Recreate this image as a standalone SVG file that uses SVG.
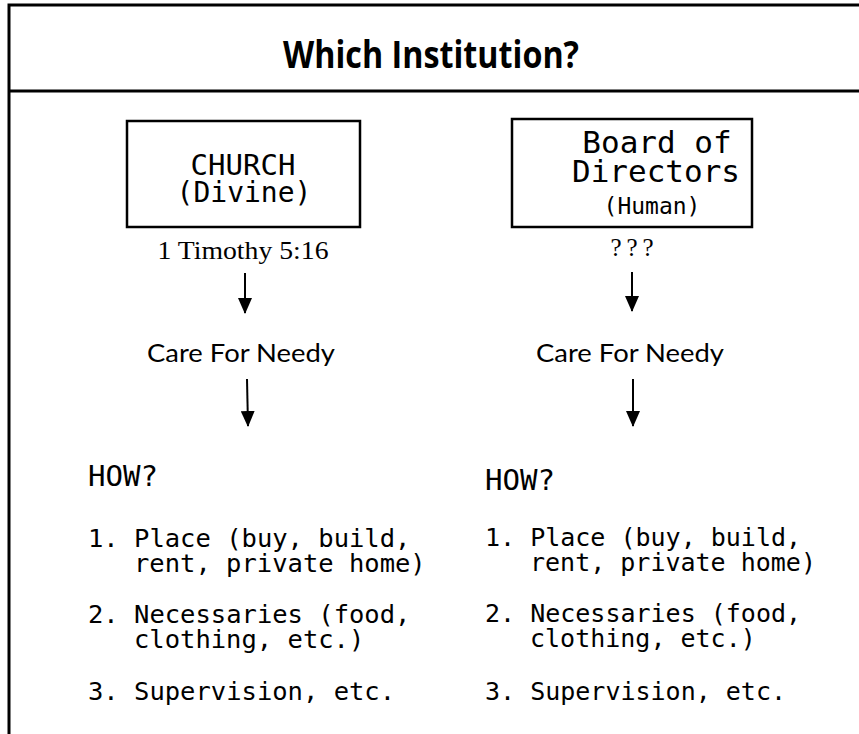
<svg xmlns="http://www.w3.org/2000/svg" width="859" height="734" viewBox="0 0 859 734">
  <style>
    .frame { stroke: #000; stroke-width: 3; fill: none; }
    .box { stroke: #000; stroke-width: 2.5; fill: #fff; }
    .title { font-family: "Open Sans", "DejaVu Sans", sans-serif; font-weight: bold; font-size: 38px; fill: #000; }
    .mono { font-family: "DejaVu Sans Mono", "Liberation Mono", monospace; fill: #000; }
    .serif { font-family: "Liberation Serif", "Times New Roman", serif; font-size: 25px; fill: #000; }
    .sans { font-family: "Lato", "Open Sans", sans-serif; font-size: 25px; fill: #000; }
    .conn { stroke: #000; stroke-width: 2; fill: none; marker-end: url(#head); }
  </style>
  <defs>
    <marker id="head" viewBox="0 0 16 14" refX="15" refY="7" markerWidth="16" markerHeight="14" markerUnits="userSpaceOnUse" orient="auto">
      <path d="M0,0 L16,7 L0,14 Z" fill="#000"/>
    </marker>
  </defs>

  <!-- outer frame and title bar -->
  <g id="frame">
    <path class="frame" d="M9,734 L9,5 L859,5"/>
    <line class="frame" x1="9" y1="91" x2="859" y2="91"/>
  </g>
  <g id="title">
    <text class="title" x="431" y="68" text-anchor="middle" textLength="296" lengthAdjust="spacingAndGlyphs">Which Institution?</text>
  </g>

  <!-- left column: the church -->
  <g id="church">
    <rect class="box" x="127" y="121" width="233" height="106"/>
    <text class="mono" x="243" y="175" font-size="29" text-anchor="middle">CHURCH</text>
    <text class="mono" x="244" y="202" font-size="28" text-anchor="middle">(Divine)</text>
  </g>
  <g id="church-authority">
    <text class="serif" x="243" y="259" text-anchor="middle" textLength="171" lengthAdjust="spacingAndGlyphs">1 Timothy 5:16</text>
  </g>
  <g id="church-care">
    <text class="sans" x="241" y="362" text-anchor="middle" textLength="188" lengthAdjust="spacingAndGlyphs">Care For Needy</text>
  </g>
  <g id="church-how">
    <text class="mono" x="88" y="486" font-size="28" textLength="70" lengthAdjust="spacingAndGlyphs">HOW?</text>
    <text class="mono" font-size="25.5">
      <tspan x="88" y="547">1. Place (buy, build,</tspan>
      <tspan x="134" y="572">rent, private home)</tspan>
      <tspan x="88" y="623">2. Necessaries (food,</tspan>
      <tspan x="134" y="648">clothing, etc.)</tspan>
      <tspan x="88" y="700">3. Supervision, etc.</tspan>
    </text>
  </g>

  <!-- right column: a board of directors -->
  <g id="board">
    <rect class="box" x="512" y="119" width="240" height="108"/>
    <text class="mono" x="657" y="153" font-size="31" text-anchor="middle">Board of</text>
    <text class="mono" x="656" y="182" font-size="31" text-anchor="middle">Directors</text>
    <text class="mono" x="652" y="214" font-size="23" text-anchor="middle">(Human)</text>
  </g>
  <g id="board-authority">
    <text class="serif" y="256" text-anchor="middle"><tspan x="616">?</tspan><tspan x="632">?</tspan><tspan x="648">?</tspan></text>
  </g>
  <g id="board-care">
    <text class="sans" x="630" y="362" text-anchor="middle" textLength="188" lengthAdjust="spacingAndGlyphs">Care For Needy</text>
  </g>
  <g id="board-how">
    <text class="mono" x="485" y="490" font-size="28" textLength="70" lengthAdjust="spacingAndGlyphs">HOW?</text>
    <text class="mono" font-size="25">
      <tspan x="485" y="546">1. Place (buy, build,</tspan>
      <tspan x="530" y="571">rent, private home)</tspan>
      <tspan x="485" y="622">2. Necessaries (food,</tspan>
      <tspan x="530" y="647">clothing, etc.)</tspan>
      <tspan x="485" y="700">3. Supervision, etc.</tspan>
    </text>
  </g>

  <!-- connectors -->
  <g id="connectors">
    <line class="conn" x1="245" y1="273" x2="245" y2="313"/>
    <line class="conn" x1="247" y1="379" x2="248" y2="426"/>
    <line class="conn" x1="632" y1="272" x2="632" y2="311"/>
    <line class="conn" x1="633" y1="379" x2="633" y2="426"/>
  </g>
</svg>
